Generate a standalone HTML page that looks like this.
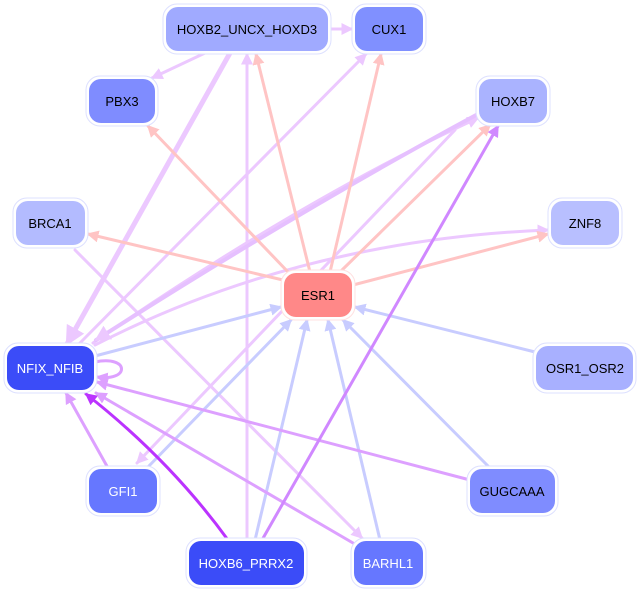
<!DOCTYPE html>
<html><head><meta charset="utf-8"><style>
html,body{margin:0;padding:0;background:#fff;}
svg{display:block;font-family:"Liberation Sans",sans-serif;}
</style></head><body>
<svg width="641" height="593" viewBox="0 0 641 593" xmlns="http://www.w3.org/2000/svg">
<defs>
<marker id="mP" markerWidth="4" markerHeight="4" refX="3.5" refY="2" orient="auto" markerUnits="strokeWidth"><path d="M0,0 L4,2 L0,4 z" fill="#ffc4c4"/></marker>
<marker id="mB" markerWidth="4" markerHeight="4" refX="3.5" refY="2" orient="auto" markerUnits="strokeWidth"><path d="M0,0 L4,2 L0,4 z" fill="#c8ccff"/></marker>
<marker id="mL" markerWidth="4" markerHeight="4" refX="3.5" refY="2" orient="auto" markerUnits="strokeWidth"><path d="M0,0 L4,2 L0,4 z" fill="#ecc8ff"/></marker>
<marker id="mM" markerWidth="4" markerHeight="4" refX="3.5" refY="2" orient="auto" markerUnits="strokeWidth"><path d="M0,0 L4,2 L0,4 z" fill="#dda0ff"/></marker>
<marker id="mD" markerWidth="4" markerHeight="4" refX="3.5" refY="2" orient="auto" markerUnits="strokeWidth"><path d="M0,0 L4,2 L0,4 z" fill="#d088ff"/></marker>
<marker id="mV" markerWidth="4" markerHeight="4" refX="3.5" refY="2" orient="auto" markerUnits="strokeWidth"><path d="M0,0 L4,2 L0,4 z" fill="#bb33ff"/></marker>
</defs>
<g fill="none" stroke-linecap="round">
<!-- lavender edges -->
<g stroke="#ecc8ff" stroke-width="3" marker-end="url(#mL)">
<line x1="330" y1="29" x2="352" y2="29"/>
<line x1="205" y1="53" x2="152" y2="78"/>
<line x1="247" y1="540" x2="247" y2="54"/>
<line x1="78" y1="345" x2="366" y2="54"/>
<line x1="180" y1="340" x2="138" y2="463" stroke-width="0" marker-end="none"/>
<path d="M455,130 L137,463"/>
<path d="M95,345 Q300,240 548,230"/>
<path d="M93,343 Q300,200 478,118"/>
<line x1="75" y1="250" x2="362" y2="538"/>
</g>
<line x1="230" y1="53" x2="67" y2="344" stroke="#ecc8ff" stroke-width="5" marker-end="url(#mL)"/>
<path d="M478,114 Q300,210 96,340" stroke="#e6c0ff" stroke-width="4" marker-end="url(#mL)"/>
<!-- pink edges from ESR1 -->
<g stroke="#ffc4c4" stroke-width="3" marker-end="url(#mP)">
<line x1="310" y1="272" x2="256" y2="54"/>
<line x1="330" y1="272" x2="381" y2="54"/>
<line x1="290" y1="274" x2="148" y2="126"/>
<line x1="340" y1="272" x2="490" y2="125"/>
<line x1="353" y1="285" x2="548" y2="234"/>
<line x1="283" y1="280" x2="88" y2="234"/>
</g>
<!-- blue edges into ESR1 -->
<g stroke="#c8ccff" stroke-width="3" marker-end="url(#mB)">
<line x1="95" y1="356" x2="281" y2="307"/>
<line x1="147" y1="468" x2="291" y2="320"/>
<line x1="255" y1="540" x2="307" y2="320"/>
<line x1="380" y1="540" x2="328" y2="320"/>
<line x1="490" y1="468" x2="343" y2="320"/>
<line x1="535" y1="352" x2="355" y2="307"/>
</g>
<!-- purple edges -->
<g stroke="#dda0ff" stroke-width="3" marker-end="url(#mM)">
<line x1="470" y1="480" x2="97" y2="382"/>
<line x1="353" y1="543" x2="96" y2="393"/>
<line x1="108" y1="468" x2="66" y2="393"/>
<path d="M95,362 C130,355 130,382 97,377"/>
</g>
<line x1="262" y1="540" x2="498" y2="126" stroke="#d088ff" stroke-width="3" marker-end="url(#mD)"/>
<path d="M228,540 Q170,460 86,394" stroke="#bb33ff" stroke-width="3" marker-end="url(#mV)"/>
</g>
<!-- nodes -->
<g font-size="13" text-anchor="middle">
<g stroke="#dde0ff" stroke-width="1">
<rect x="163" y="4" width="168" height="50" rx="14" fill="#fff"/>
<rect x="352" y="4" width="74" height="50" rx="14" fill="#fff"/>
<rect x="86" y="76" width="72" height="50" rx="14" fill="#fff"/>
<rect x="476" y="76" width="74" height="50" rx="14" fill="#fff"/>
<rect x="13" y="198" width="75" height="50" rx="14" fill="#fff"/>
<rect x="548" y="198" width="74" height="50" rx="14" fill="#fff"/>
<rect x="281" y="270" width="74" height="50" rx="14" fill="#fff" stroke="#ffe0e0"/>
<rect x="4" y="343" width="93" height="50" rx="14" fill="#fff"/>
<rect x="533" y="343" width="103" height="50" rx="14" fill="#fff"/>
<rect x="86" y="466" width="74" height="50" rx="14" fill="#fff"/>
<rect x="467" y="466" width="91" height="50" rx="14" fill="#fff"/>
<rect x="186" y="538" width="121" height="50" rx="14" fill="#fff"/>
<rect x="351" y="538" width="75" height="50" rx="14" fill="#fff"/>
</g>
<rect x="166" y="7" width="162" height="44" rx="12" fill="#a0aaff"/>
<rect x="355" y="7" width="68" height="44" rx="12" fill="#8090ff"/>
<rect x="89" y="79" width="66" height="44" rx="12" fill="#7f8cff"/>
<rect x="479" y="79" width="68" height="44" rx="12" fill="#aab3ff"/>
<rect x="16" y="201" width="69" height="44" rx="12" fill="#b3bbff"/>
<rect x="551" y="201" width="68" height="44" rx="12" fill="#b8bfff"/>
<rect x="284" y="273" width="68" height="44" rx="12" fill="#ff8888"/>
<rect x="7" y="346" width="87" height="44" rx="12" fill="#3b4cf8"/>
<rect x="536" y="346" width="97" height="44" rx="12" fill="#a8b0ff"/>
<rect x="89" y="469" width="68" height="44" rx="12" fill="#6677ff"/>
<rect x="470" y="469" width="85" height="44" rx="12" fill="#7f8cff"/>
<rect x="189" y="541" width="115" height="44" rx="12" fill="#3b4cf8"/>
<rect x="354" y="541" width="69" height="44" rx="12" fill="#6677ff"/>
<text x="247" y="34" fill="#000">HOXB2_UNCX_HOXD3</text>
<text x="389" y="34" fill="#000">CUX1</text>
<text x="122" y="106" fill="#000">PBX3</text>
<text x="513" y="106" fill="#000">HOXB7</text>
<text x="50" y="228" fill="#000">BRCA1</text>
<text x="585" y="228" fill="#000">ZNF8</text>
<text x="318" y="300" fill="#000">ESR1</text>
<text x="50" y="373" fill="#fff">NFIX_NFIB</text>
<text x="585" y="373" fill="#000">OSR1_OSR2</text>
<text x="123" y="496" fill="#fff">GFI1</text>
<text x="512" y="496" fill="#000">GUGCAAA</text>
<text x="246" y="568" fill="#fff">HOXB6_PRRX2</text>
<text x="388" y="568" fill="#fff">BARHL1</text>
</g>
</svg>
</body></html>
